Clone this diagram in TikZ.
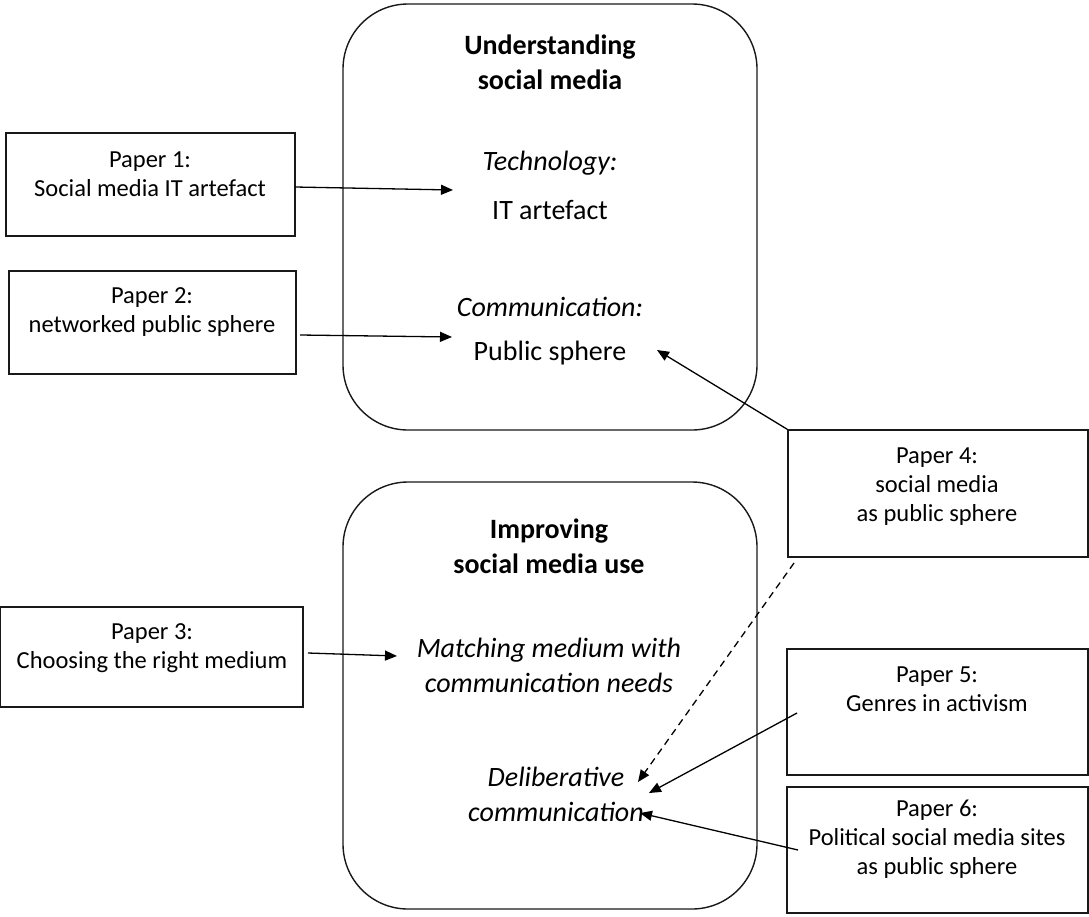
\documentclass[tikz,border=0pt]{standalone}
\usepackage{fontspec}
\setmainfont{Carlito}
\usetikzlibrary{arrows.meta}
\begin{document}
\begin{tikzpicture}[x=1pt,y=-1pt,
  frame/.style={draw=black!90, line width=1.4pt, rounded corners=65pt, inner sep=0pt},
  paperbox/.style={draw=black!90, line width=1.3pt, inner sep=0pt},
  ptext/.style={align=center, font=\fontsize{24.5}{29}\selectfont, inner sep=0pt},
  ctext/.style={align=center, font=\fontsize{28}{35}\selectfont, inner sep=0pt},
  htext/.style={align=center, font=\fontsize{28}{35}\selectfont\bfseries, inner sep=0pt},
  link/.style={draw=black, line width=1.3pt, -{Triangle[length=12pt,width=10pt]}},
]
\useasboundingbox (0,0) rectangle (1089,916);

% the two theme frames
\node[frame, minimum width=414pt, minimum height=426pt] (understand) at (550,217) {};
\node[frame, minimum width=414pt, minimum height=427pt] (improve) at (550,695.5) {};

% contents of the upper frame
\node[htext] (uhead) at (550,62) {Understanding\\social media};
\node[ctext] (tech) at (550,163) {\itshape Technology:};
\node[ctext] (itart) at (550,210) {IT artefact};
\node[ctext] (comm) at (550,307) {\itshape Communication:};
\node[ctext] (pubsph) at (550,353) {Public sphere};

% contents of the lower frame
\node[htext] (ihead) at (549,546) {Improving\\social media use};
\node[ctext] (match) at (549,665) {\itshape Matching medium with\\\itshape communication needs};
\node[ctext] (delib) at (556,794) {\itshape Deliberative\\\itshape communication};

% paper boxes
\node[paperbox, minimum width=289pt, minimum height=103pt] (p1) at (150.5,184.5) {};
\node[paperbox, minimum width=287pt, minimum height=103pt] (p2) at (152.5,322.5) {};
\node[paperbox, minimum width=303pt, minimum height=100pt] (p3) at (151.5,657) {};
\node[paperbox, minimum width=300pt, minimum height=127pt] (p4) at (938,493.5) {};
\node[paperbox, minimum width=301pt, minimum height=126pt] (p5) at (937.5,712) {};
\node[paperbox, minimum width=301pt, minimum height=126pt] (p6) at (937.5,850) {};

\node[ptext] (p1t) at (150,174) {Paper 1:\\Social media IT artefact};
\node[ptext] (p2t) at (152,312) {Paper 2:\\networked public sphere};
\node[ptext] (p3t) at (152,648) {Paper 3:\\Choosing the right medium};
\node[ptext] (p4t) at (937,487) {Paper 4:\\social media\\as public sphere};
\node[ptext] (p5t) at (937,689) {Paper 5:\\Genres in activism};
\node[ptext] (p6t) at (937,839) {Paper 6:\\Political social media sites\\as public sphere};

% connector end points
\coordinate (a1s) at (295,187);  \coordinate (a1e) at (453,190);
\coordinate (a2s) at (300,335);  \coordinate (a2e) at (452,337);
\coordinate (a3s) at (308,653);  \coordinate (a3e) at (397,656);
\coordinate (a4e) at (657,350);
\coordinate (a5s) at (794,563);  \coordinate (a5e) at (638,782);
\coordinate (a6s) at (797,713);  \coordinate (a6e) at (649,793);
\coordinate (a7s) at (798,850);  \coordinate (a7e) at (640,813);

\draw[link] (a1s) -- (a1e);
\draw[link] (a2s) -- (a2e);
\draw[link] (a3s) -- (a3e);
\draw[link] (p4.north west) -- (a4e);
\draw[link, dash pattern=on 7pt off 5pt] (a5s) -- (a5e);
\draw[link] (a6s) -- (a6e);
\draw[link] (a7s) -- (a7e);
\end{tikzpicture}
\end{document}
